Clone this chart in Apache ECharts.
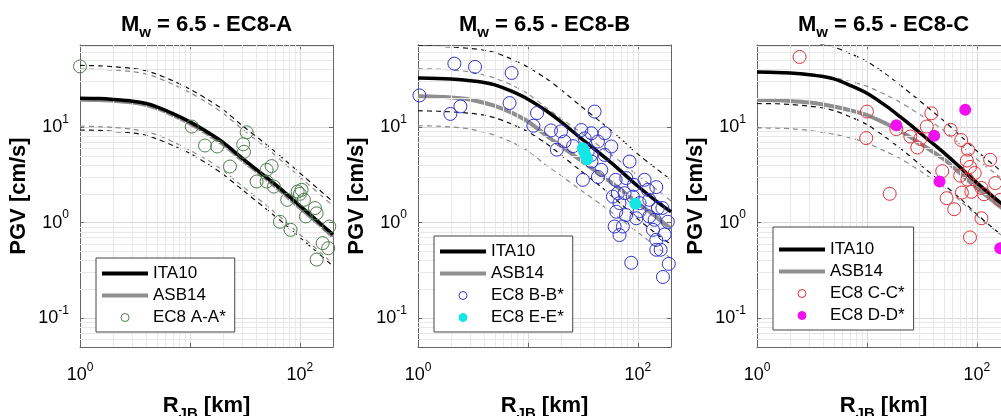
<!DOCTYPE html>
<html>
<head>
<meta charset="UTF-8">
<title>PGV vs R_JB</title>
<script src="https://cdn.jsdelivr.net/npm/echarts@6/dist/echarts.min.js"></script>
<style>html,body,#container{width:100%;height:100%;margin:0;padding:0;background:#fff;}</style>
</head>
<body>
<div id="container"></div>
<script>
// distances the model curves are read at [km]
var R = [1, 1.5, 2, 3, 4, 5, 7, 10, 15, 20, 30, 50, 70, 100, 150, 200];

// EC8-A
var itaA   = [20, 19.8, 19.4, 18.6, 17.6, 16.2, 13.8, 11.3, 8.6, 6.9, 4.7, 2.95, 2.15, 1.5, 1.0, 0.75];
var asbA   = [19.3, 19.1, 18.8, 18, 17, 15.7, 13.3, 10.9, 8.3, 6.6, 4.5, 2.85, 2.05, 1.43, 0.96, 0.71];
var itaAhi = [44, 43.6, 42.7, 40.9, 38.7, 35.6, 30.4, 24.9, 18.9, 15.2, 10.3, 6.5, 4.7, 3.3, 2.2, 1.65];
var itaAlo = [9.3, 9.2, 9.0, 8.65, 8.2, 7.5, 6.4, 5.3, 4.0, 3.2, 2.2, 1.37, 1.0, 0.7, 0.47, 0.35];
var asbAhi = [40.5, 40.1, 39.5, 37.8, 35.7, 33, 27.9, 22.9, 17.4, 13.9, 9.45, 6.0, 4.3, 3.0, 2.0, 1.5];
var asbAlo = [10.2, 10.1, 9.9, 9.5, 8.9, 8.3, 7.0, 5.7, 4.4, 3.5, 2.4, 1.5, 1.08, 0.75, 0.5, 0.37];
var obsA = [[1, 43], [10.4, 10.1], [13.7, 6.4], [17.7, 6.25], [23.1, 3.86], [32.8, 8.8], [30.5, 6.6],
  [31, 5.5], [40.4, 2.69], [49.8, 2.69], [49.8, 3.56], [55.3, 3.9], [58, 2.38], [65.8, 1.02], [76.7, 1.73],
  [82.3, 0.84], [95.3, 2.11], [103.6, 2.2], [108.7, 1.73], [113.4, 1.16], [137, 1.42], [142, 1.25],
  [142, 0.41], [161, 0.61], [181, 0.54], [185, 0.91], [100, 2.0]];

// EC8-B
var itaB   = [32.5, 32.2, 31.7, 30.5, 29.2, 27.6, 23.8, 19.5, 14.5, 11.3, 7.7, 4.8, 3.45, 2.4, 1.65, 1.3];
var asbB   = [20.9, 20.7, 20.3, 19.3, 17.9, 16.6, 14.2, 11.4, 8.0, 6.3, 4.5, 2.95, 2.2, 1.6, 1.12, 0.86];
var itaBhi = [70.5, 69.9, 68.8, 66.2, 63.4, 59.9, 51.6, 42.3, 31.5, 24.5, 16.7, 10.4, 7.5, 5.2, 3.6, 2.8];
var itaBlo = [14.8, 14.6, 14.4, 13.9, 13.3, 12.5, 10.8, 8.9, 6.6, 5.1, 3.5, 2.2, 1.57, 1.09, 0.75, 0.59];
var asbBhi = [40.7, 40.4, 39.6, 37.6, 34.9, 32.4, 27.7, 22.2, 15.6, 12.3, 8.8, 5.75, 4.3, 3.1, 2.2, 1.68];
var asbBlo = [10.3, 10.2, 10.0, 9.5, 8.8, 8.2, 7.0, 5.6, 3.9, 3.1, 2.2, 1.45, 1.08, 0.79, 0.55, 0.42];
var obsB = [[1.03, 21.4], [2.14, 46], [3.3, 42.5], [7.1, 36.7], [1.97, 13.7], [2.43, 16.4], [6.8, 17.8],
  [12.1, 14], [11.2, 10.3], [16.2, 9.2], [20, 9.0], [18.3, 5.8], [21.5, 7.05], [25.7, 6.3], [30.6, 9.3],
  [32.8, 7.6], [31.6, 2.8], [40.4, 14.5], [43.3, 7.05], [49.8, 8.6], [46.5, 3.56], [57.3, 6.25],
  [49.8, 5.1], [43.3, 3.0], [37.8, 5.1], [37.8, 4.35], [37.8, 8.6], [62.7, 2.8], [59.3, 1.87], [84, 4.35],
  [78.4, 2.92], [92, 2.48], [75.7, 2.03], [65.6, 2.03], [68, 1.6], [63.6, 1.3], [61.4, 0.91], [68, 0.74],
  [73, 0.91], [90, 1.87], [96.7, 1.11], [103.6, 1.32], [103.6, 1.6], [115, 2.8], [127, 1.73], [123, 2.2],
  [147, 2.35], [152, 1.42], [142, 1.07], [137, 0.84], [147, 0.52], [147, 0.66], [161, 0.52], [169, 0.27],
  [175, 0.75], [187, 1.02], [191, 0.37], [87, 0.38], [167, 1.42], [78, 1.2], [127, 1.16], [35, 5.6]];
var obsBE = [[31.6, 6.0], [32.5, 5.5], [33.5, 5.0], [34.5, 4.6], [95, 1.57]];

// EC8-C
var itaC   = [37.5, 37.2, 36.6, 35.2, 33.7, 31.8, 27.3, 22.5, 16.5, 12.8, 8.8, 5.4, 3.8, 2.6, 1.75, 1.35];
var asbC   = [19.1, 19.0, 18.7, 18.0, 17.2, 16.4, 15.0, 13.3, 10.8, 9.1, 6.8, 4.6, 3.3, 2.3, 1.58, 1.22];
var itaChi = [80.6, 80, 78.7, 75.7, 72.5, 68.4, 58.7, 48.4, 35.5, 27.5, 18.9, 11.6, 8.2, 5.6, 3.8, 2.9];
var itaClo = [17.6, 17.5, 17.2, 16.5, 15.8, 14.9, 12.8, 10.6, 7.7, 6.0, 4.1, 2.5, 1.8, 1.22, 0.82, 0.63];
var asbChi = [38.2, 38, 37.4, 36, 34.4, 32.8, 30, 26.6, 21.6, 18.2, 13.6, 9.2, 6.6, 4.6, 3.2, 2.45];
var asbClo = [9.8, 9.7, 9.6, 9.2, 8.8, 8.4, 7.7, 6.8, 5.5, 4.7, 3.5, 2.35, 1.7, 1.18, 0.81, 0.63];
var obsC = [[2.44, 54], [10, 14.5], [9.85, 7.65], [16.1, 2.0], [18.5, 9.5], [24.8, 7.95], [28.7, 6.1],
  [30.5, 7.5], [35, 10.1], [38.5, 13.9], [48.4, 3.45], [53, 1.8], [57.6, 9.35], [62.2, 1.38], [72, 7.3],
  [70.5, 3.1], [73, 2.06], [81, 4.45], [83, 5.8], [86.5, 3.82], [82, 2.82], [89, 2.1], [95.5, 3.3],
  [86.5, 0.7], [110, 2.3], [110, 1.11], [116, 1.98], [132, 4.54], [147, 2.59], [163, 1.73]];
var obsCD = [[18.5, 10.4], [40.9, 8.1], [78.3, 15.1], [45.7, 2.69], [163, 0.54]];

// minor grid positions
var minorX = [2, 3, 4, 5, 6, 7, 8, 9, 20, 30, 40, 50, 60, 70, 80, 90];
var minorY = [0.06, 0.07, 0.08, 0.09, 0.2, 0.3, 0.4, 0.5, 0.6, 0.7, 0.8, 0.9,
  2, 3, 4, 5, 6, 7, 8, 9, 20, 30, 40, 50, 60, 70];

var FONT = 'Liberation Sans';
var AXC = '#666';
var LINE_ICON = 'path://M0,0H46V4H0Z';

var panels = [
  { left: 80, title: 'EC8-A', ita: itaA, asb: asbA, itaHi: itaAhi, itaLo: itaAlo, asbHi: asbAhi, asbLo: asbAlo,
    sets: [{ name: 'EC8 A-A*', data: obsA, color: '#4f7a4f', filled: false }],
    legend: { top: 258, pad: 7 } },
  { left: 418, title: 'EC8-B', ita: itaB, asb: asbB, itaHi: itaBhi, itaLo: itaBlo, asbHi: asbBhi, asbLo: asbBlo,
    sets: [{ name: 'EC8 B-B*', data: obsB, color: '#3333cc', filled: false },
           { name: 'EC8 E-E*', data: obsBE, color: '#14e6e6', filled: true }],
    legend: { top: 236, pad: 7 } },
  { left: 757, title: 'EC8-C', ita: itaC, asb: asbC, itaHi: itaChi, itaLo: itaClo, asbHi: asbChi, asbLo: asbClo,
    sets: [{ name: 'EC8 C-C*', data: obsC, color: '#e0303a', filled: false },
           { name: 'EC8 D-D*', data: obsCD, color: '#f010f0', filled: true }],
    legend: { top: 227, pad: 14 } }
];

function expOf(v) {
  var e = Math.log(v) / Math.LN10;
  var k = Math.round(e);
  return Math.abs(e - k) > 1e-6 ? null : k;
}
function yLabel(v) {
  var k = expOf(v);
  return k === null ? '' : '{b|10}{s|' + k + '}';
}
function xLabel(v) {
  var k = expOf(v);
  return (k === null || k % 2 !== 0) ? '' : '{b|10}{s|' + k + '}';
}
var tickRich = {
  b: { fontSize: 18, fontFamily: FONT, color: '#000' },
  s: { fontSize: 12, fontFamily: FONT, color: '#000', padding: [0, 0, 15, 0] }
};

var grid = [], xAxis = [], yAxis = [], series = [], legend = [], title = [];

panels.forEach(function (p, i) {
  grid.push({ left: p.left, top: 45, width: 253, height: 302, containLabel: false, outerBoundsMode: 'none' });

  xAxis.push({
    type: 'log', logBase: 10, gridIndex: i, min: 1, max: 200,
    axisLine: { show: true, lineStyle: { color: AXC, width: 1 } },
    axisTick: { show: true, inside: true, length: 4, lineStyle: { color: AXC } },
    axisLabel: { formatter: xLabel, margin: 15, rich: tickRich, hideOverlap: false },
    splitLine: { show: true, lineStyle: { color: '#d6d6d6', width: 1 } },
    name: '{b|R}{s|JB}{b| [km]}', nameLocation: 'middle', nameGap: 43,
    nameTextStyle: { rich: {
      b: { fontSize: 22, fontWeight: 'bold', fontFamily: FONT, color: '#000' },
      s: { fontSize: 15, fontWeight: 'bold', fontFamily: FONT, color: '#000', padding: [16, 0, 0, 0] }
    } }
  });
  xAxis.push({
    type: 'log', logBase: 10, gridIndex: i, min: 1, max: 200, position: 'top',
    axisLine: { show: true, lineStyle: { color: AXC, width: 1 } },
    axisTick: { show: true, inside: true, length: 4, lineStyle: { color: AXC } },
    axisLabel: { show: false }, splitLine: { show: false }
  });
  yAxis.push({
    type: 'log', logBase: 10, gridIndex: i, min: 0.05, max: 72,
    axisLine: { show: true, lineStyle: { color: AXC, width: 1 } },
    axisTick: { show: true, inside: true, length: 4, lineStyle: { color: AXC } },
    axisLabel: { formatter: yLabel, margin: 11, rich: tickRich, hideOverlap: false },
    splitLine: { show: true, lineStyle: { color: '#d6d6d6', width: 1 } },
    name: 'PGV [cm/s]', nameLocation: 'middle', nameGap: 50, nameRotate: 90,
    nameTextStyle: { fontSize: 22, fontWeight: 'bold', fontFamily: FONT, color: '#000' }
  });
  yAxis.push({
    type: 'log', logBase: 10, gridIndex: i, min: 0.05, max: 72, position: 'right',
    axisLine: { show: true, lineStyle: { color: AXC, width: 1 } },
    axisTick: { show: true, inside: true, length: 4, lineStyle: { color: AXC } },
    axisLabel: { show: false }, splitLine: { show: false }
  });

  var xi = 2 * i, yi = 2 * i;
  // minor log grid
  series.push({
    name: 'grid' + i, type: 'line', xAxisIndex: xi, yAxisIndex: yi, data: [], silent: true, z: 1,
    animation: false,
    markLine: {
      silent: true, animation: false, symbol: ['none', 'none'], label: { show: false },
      lineStyle: { color: '#e8e8e8', width: 1, type: 'solid' },
      data: minorX.map(function (v) { return { xAxis: v }; })
        .concat(minorY.map(function (v) { return { yAxis: v }; }))
    }
  });

  function curve(name, ys, color, width, dashed, z) {
    return {
      name: name, type: 'line', xAxisIndex: xi, yAxisIndex: yi,
      data: R.map(function (r, k) { return [r, ys[k]]; }),
      symbol: 'none', showSymbol: false, smooth: 0.3, clip: true, silent: true, animation: false,
      lineStyle: { color: color, width: width, type: dashed ? [5, 4] : 'solid' },
      itemStyle: { color: color }, z: z
    };
  }
  series.push(curve('ASB14 +s ' + i, p.asbHi, '#8c8c8c', 1.2, true, 3));
  series.push(curve('ASB14 -s ' + i, p.asbLo, '#8c8c8c', 1.2, true, 3));
  series.push(curve('ITA10 +s ' + i, p.itaHi, '#111', 1.2, true, 3));
  series.push(curve('ITA10 -s ' + i, p.itaLo, '#111', 1.2, true, 3));
  series.push(curve('ASB14', p.asb, '#8f8f8f', 4, false, 4));
  series.push(curve('ITA10', p.ita, '#000', 3.5, false, 5));

  p.sets.forEach(function (s) {
    series.push({
      name: s.name, type: 'scatter', xAxisIndex: xi, yAxisIndex: yi, data: s.data,
      symbol: 'circle', symbolSize: s.filled ? 12 : 13, silent: true, animation: false, z: 6,
      itemStyle: s.filled
        ? { color: s.color, borderColor: s.color, borderWidth: 0, opacity: 1 }
        : { color: 'rgba(255,255,255,0)', borderColor: s.color, borderWidth: 1, opacity: 1 }
    });
  });

  legend.push({
    data: [
      { name: 'ITA10', icon: LINE_ICON, itemStyle: { color: '#000', borderWidth: 0 } },
      { name: 'ASB14', icon: LINE_ICON, itemStyle: { color: '#8f8f8f', borderWidth: 0 } }
    ].concat(p.sets.map(function (s) { return { name: s.name, icon: 'circle' }; })),
    orient: 'vertical', left: p.left + 16, top: p.legend.top,
    itemWidth: 46, itemHeight: 8, itemGap: 5,
    padding: [p.legend.pad, 9, 6, 6],
    backgroundColor: '#fff', borderColor: '#444', borderWidth: 1, borderRadius: 0,
    selectedMode: false, z: 10,
    itemStyle: { borderWidth: 1 },
    textStyle: { fontSize: 17, fontFamily: FONT, color: '#000' }
  });

  title.push({
    text: '{b|M}{s|w}{b| = 6.5 - ' + p.title + '}',
    left: p.left + 126.5, top: 25, padding: 0,
    textAlign: 'center', textVerticalAlign: 'middle',
    textStyle: { rich: {
      b: { fontSize: 22, fontWeight: 'bold', fontFamily: FONT, color: '#000' },
      s: { fontSize: 15, fontWeight: 'bold', fontFamily: FONT, color: '#000', padding: [16, 0, 0, 0] }
    } }
  });
});

var chart = echarts.init(document.getElementById('container'), null, { renderer: 'canvas' });
chart.setOption({
  backgroundColor: '#fff',
  animation: false,
  title: title,
  legend: legend,
  grid: grid,
  xAxis: xAxis,
  yAxis: yAxis,
  series: series
});
</script>
</body>
</html>
